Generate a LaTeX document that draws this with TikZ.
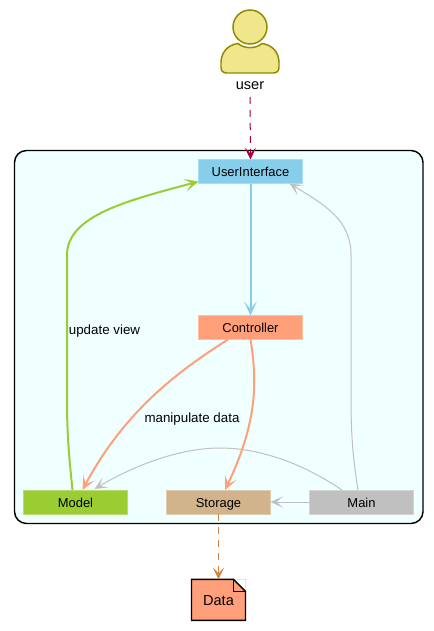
\documentclass[tikz,border=0pt]{standalone}
\usepackage{fontspec}
\setmainfont{Liberation Sans}
\usepackage{tikz}
\usetikzlibrary{arrows.meta, positioning, calc}

\definecolor{uicolor}{HTML}{87CEEB}
\definecolor{logiccolor}{HTML}{FFA07A}
\definecolor{modelcolor}{HTML}{9ACD32}
\definecolor{storagecolor}{HTML}{D2B48C}
\definecolor{maincolor}{HTML}{C0C0C0}
\definecolor{boxcolor}{HTML}{F0FFFF}
\definecolor{usercolor}{HTML}{F0E68C}
\definecolor{userline}{HTML}{8F8A00}
\definecolor{userarrow}{HTML}{A80036}
\definecolor{dataarrow}{HTML}{CD853F}

\begin{document}
\begin{tikzpicture}[
  x=0.75pt, y=-0.75pt,
  comp/.style={
    rectangle, minimum width=78pt, minimum height=18pt,
    inner sep=0pt, outer sep=0pt, line width=0.75pt,
    text height=10.2pt, text depth=2pt,
    font=\fontsize{9.7pt}{11pt}\selectfont
  },
  uicomp/.style={comp, fill=uicolor, draw=uicolor!70!white},
  logiccomp/.style={comp, fill=logiccolor, draw=logiccolor!70!white},
  modelcomp/.style={comp, fill=modelcolor, draw=modelcolor!70!white},
  storagecomp/.style={comp, fill=storagecolor, draw=storagecolor!70!white},
  maincomp/.style={comp, fill=maincolor, draw=maincolor!70!white},
  tag/.style={font=\fontsize{10pt}{12pt}\selectfont, inner sep=0pt, text height=9.5pt, text depth=2pt},
  flow/.style={line width=1.5pt, -{Stealth[length=10.5pt, width=9.5pt, inset=5.5pt]}},
  link/.style={line width=0.75pt, draw=maincolor, -{Stealth[length=9.5pt, width=8.5pt, inset=5pt]}},
  dep/.style={line width=0.75pt, dash pattern=on 5.25pt off 4.5pt, -{Stealth[length=9pt, width=8.5pt, inset=4.5pt]}},
  actor/.style={fill=usercolor, draw=userline, line width=1.1pt}
]
% frame
\draw[fill=boxcolor, draw=black, line width=1.1pt, rounded corners=9pt] (14.5,150.5) rectangle (423,523.5);
\useasboundingbox (0,0) rectangle (433,631);

% user
\node[actor, circle, minimum size=25.5pt, inner sep=0pt] (head) at (250,27) {};
\draw[actor] (238,43.5) .. controls (227,45) and (221,53) .. (221,63) -- (221,67)
  .. controls (221,71) and (223,73) .. (227,73) -- (273,73)
  .. controls (277,73) and (279,71) .. (279,67) -- (279,63)
  .. controls (279,53) and (273,45) .. (262,43.5)
  .. controls (256,49) and (244,49) .. (238,43.5) -- cycle;
\node[font=\fontsize{10.9pt}{12pt}\selectfont, inner sep=0pt, text height=9.5pt, text depth=2pt] (user) at (250,85) {user};

% components
\node[uicomp] (ui) at (250.5,171.5) {UserInterface};
\node[logiccomp, below=99pt of ui] (logic) {Controller};
\node[maincomp] (main) at (361.5,502) {Main};
\node[storagecomp, left=29.25pt of main] (storage) {Storage};
\node[modelcomp, left=29.25pt of storage] (model) {Model};
\node[fill=logiccolor, minimum width=40.5pt, minimum height=30.75pt, inner sep=0pt, outer sep=0pt,
  text height=11pt, text depth=2pt, font=\fontsize{10.9pt}{12pt}\selectfont, below=49pt of storage] (data) {Data};
\fill[white] ($(data.north east)+(-12,0)$) -- (data.north east) -- ($(data.north east)+(0,12)$) -- cycle;
\draw[line width=1.1pt, line join=miter] ($(data.north east)+(-12,0)$) -- (data.north west) -- (data.south west)
  -- (data.south east) -- ($(data.north east)+(0,12)$) -- cycle;
\draw[line width=1.1pt] ($(data.north east)+(-12,0)$) -- ($(data.north east)+(-12,12)$) -- ($(data.north east)+(0,12)$);

% connectors
\draw[dep, userarrow] ([yshift=-3pt]user.south) -- (ui.north);
\draw[flow, uicolor] (ui) -- (logic);
\draw[flow, modelcolor] ($(model.north)+(-3,0)$) .. controls (70,465) and (67,440) .. (67,400) -- (67,255)
  .. controls (67,215) and (130,200) .. ($(ui.south west)+(0,-2)$);
\draw[flow, logiccolor] ($(logic.south)+(-22.5,0)$) .. controls (180,370) and (125,410) .. ($(model.north)+(7,0)$);
\draw[flow, logiccolor] (logic.south) .. controls (258,385) and (256,425) .. ($(storage.north)+(6.5,0)$);
\draw[link] (main) -- (storage);
\draw[link] ($(main.north)+(-19.5,0)$) .. controls (305,465) and (262,448) .. (220,448)
  .. controls (180,448) and (135,465) .. ($(model.north)+(19,-1)$);
\draw[link] ($(main.north)+(-3.5,0)$) .. controls (354,465) and (351,440) .. (351,400) -- (351,255)
  .. controls (351,220) and (325,205) .. ($(ui.south east)+(-13,0)$);
\draw[dep, dataarrow] (storage) -- (data);

% labels
\node[tag] (updatelabel) at (104.5,329) {update view};
\node[tag] (manipulatelabel) at (192,417) {manipulate data};
\end{tikzpicture}
\end{document}
